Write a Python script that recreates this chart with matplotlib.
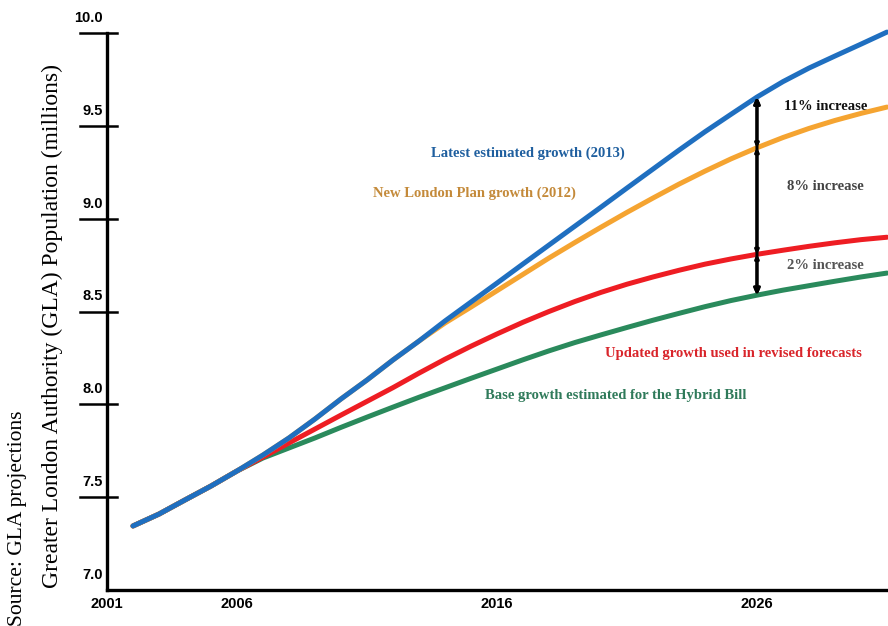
import matplotlib
matplotlib.use("Agg")
import matplotlib.pyplot as plt

# ---- data ----
years = list(range(2002, 2032))
latest_2013 = [7.345, 7.409, 7.485, 7.560, 7.641, 7.727, 7.819, 7.921, 8.029, 8.131,
               8.239, 8.341, 8.449, 8.551, 8.653, 8.756, 8.858, 8.960, 9.062, 9.165,
               9.267, 9.369, 9.468, 9.562, 9.655, 9.738, 9.811, 9.876, 9.940, 10.005]
london_plan_2012 = [7.345, 7.409, 7.485, 7.560, 7.641, 7.727, 7.819, 7.921, 8.029, 8.131,
                    8.239, 8.341, 8.438, 8.524, 8.612, 8.700, 8.788, 8.872, 8.954, 9.034,
                    9.111, 9.186, 9.256, 9.322, 9.382, 9.437, 9.486, 9.529, 9.567, 9.601]
updated_growth = [7.345, 7.409, 7.485, 7.560, 7.641, 7.716, 7.792, 7.867, 7.942, 8.016,
                  8.090, 8.168, 8.243, 8.313, 8.379, 8.442, 8.500, 8.554, 8.603, 8.647,
                  8.686, 8.722, 8.755, 8.783, 8.808, 8.830, 8.851, 8.870, 8.887, 8.900]
base_hybrid = [7.345, 7.409, 7.485, 7.560, 7.641, 7.711, 7.765, 7.819, 7.876, 7.931,
               7.985, 8.038, 8.089, 8.140, 8.190, 8.240, 8.288, 8.333, 8.374, 8.414,
               8.453, 8.490, 8.526, 8.559, 8.588, 8.615, 8.639, 8.663, 8.686, 8.707]

series_labels = ["Latest estimated growth (2013)", "New London Plan growth (2012)",
                 "Updated growth used in revised forecasts", "Base growth estimated for the Hybrid Bill"]
increase_labels = ["11% increase", "8% increase", "2% increase"]
xtick_years = [2001, 2006, 2016, 2026]
ytick_vals = [7.0, 7.5, 8.0, 8.5, 9.0, 9.5, 10.0]
arrow_year = 2026

fig = plt.figure(figsize=(8.88, 6.26), dpi=100)
ax = fig.add_axes([107 / 888, 36 / 626, 781 / 888, 557 / 626])
ax.set_xlim(2001, 2031.04)
ax.set_ylim(7.0, 10.0)

c_blue, c_orange, c_red, c_green = "#1f6fc0", "#f5a431", "#ee1d23", "#2a8a5c"
lw = 3.6
ax.plot(years, base_hybrid, color=c_green, lw=lw, solid_capstyle="round", clip_on=False, zorder=3)
ax.plot(years, updated_growth, color=c_red, lw=lw, solid_capstyle="round", clip_on=False, zorder=4)
ax.plot(years, london_plan_2012, color=c_orange, lw=lw, solid_capstyle="round", clip_on=False, zorder=5)
ax.plot(years, latest_2013, color=c_blue, lw=lw, solid_capstyle="round", clip_on=False, zorder=6)

# spines
for s in ["top", "right"]:
    ax.spines[s].set_visible(False)
for s in ["left", "bottom"]:
    ax.spines[s].set_linewidth(2.4)
    ax.spines[s].set_color("black")
ax.set_xticks([])
ax.set_yticks([])

# y ticks drawn manually (asymmetric)
ytr = ax.get_yaxis_transform()
tick_font = dict(family=["Liberation Sans Narrow", "Liberation Sans"], fontweight="bold", fontsize=10.5)
for v in ytick_vals:
    if v > 7.0:
        ax.plot([-27 / 781, 10 / 781], [v, v], transform=ytr, color="black", lw=1.8, clip_on=False)
    ax.annotate(f"{v:.1f}", xy=(0, v), xycoords=ytr, xytext=(-4, 15), textcoords="offset pixels",
                ha="right", va="center", **tick_font)

xtr = ax.get_xaxis_transform()
for yr in xtick_years:
    ax.annotate(str(yr), xy=(yr, 0), xycoords=xtr, xytext=(0, -14), textcoords="offset pixels",
                ha="center", va="center", **tick_font)

# arrows at 2026: main double arrow plus small heads at intermediate lines
i = years.index(arrow_year)
levels = [latest_2013[i], london_plan_2012[i], updated_growth[i], base_hybrid[i]]
ax.annotate("", xy=(arrow_year, levels[-1]), xytext=(arrow_year, levels[0]),
            arrowprops=dict(arrowstyle="<|-|>", color="black", lw=2.2, mutation_scale=9,
                            shrinkA=0, shrinkB=0), zorder=7)
for a, b in zip(levels[:-1], levels[1:]):
    ax.annotate("", xy=(arrow_year, b), xytext=(arrow_year, a),
                arrowprops=dict(arrowstyle="<|-|>", color="black", lw=2.2, mutation_scale=5,
                                shrinkA=0, shrinkB=0), zorder=7)

serif = dict(family=["Liberation Serif", "DejaVu Serif"], fontweight="bold", fontsize=10.5)
ax.text(2017.19, 9.353, series_labels[0], color="#1f5f9f", ha="center", va="center", **serif)
ax.text(2015.15, 9.138, series_labels[1], color="#c48a3a", ha="center", va="center", **serif)
ax.text(2025.08, 8.276, series_labels[2], color="#d9252b", ha="center", va="center", **serif)
ax.text(2020.58, 8.045, series_labels[3], color="#2f7a5a", ha="center", va="center", **serif)

ax.text(2028.65, 9.605, increase_labels[0], color="#111111", ha="center", va="center", **serif)
ax.text(2028.65, 9.175, increase_labels[1], color="#444444", ha="center", va="center", **serif)
ax.text(2028.65, 8.75, increase_labels[2], color="#555555", ha="center", va="center", **serif)

fig.text(52 / 888, 1 - 326 / 626, "Greater London Authority (GLA) Population (millions)",
         rotation=90, ha="center", va="center", family="Liberation Serif", fontsize=17)
fig.text(18 / 888, 1 - 518 / 626, "Source: GLA projections",
         rotation=90, ha="center", va="center", family="Liberation Serif", fontsize=15.5)

fig.savefig("out.png", dpi=100)
